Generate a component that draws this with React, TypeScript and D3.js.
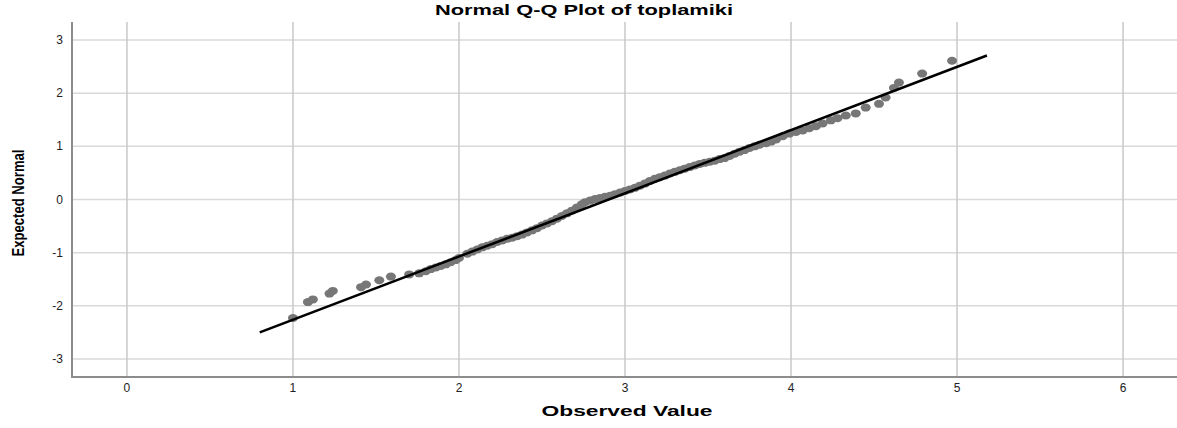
import React from 'react'
import * as d3 from 'd3'

const observedValues = [
  1.0, 1.09, 1.12, 1.22, 1.24, 1.41, 1.44, 1.52, 1.59, 1.7,
  1.76, 1.8, 1.83, 1.86, 1.89, 1.92, 1.95, 1.98, 2.0, 2.05,
  2.08, 2.11, 2.14, 2.17, 2.2, 2.23, 2.26, 2.29, 2.32, 2.35,
  2.38, 2.41, 2.44, 2.47, 2.5, 2.53, 2.56, 2.59, 2.62, 2.65,
  2.68, 2.71, 2.74, 2.76, 2.79, 2.82, 2.85, 2.88, 2.91, 2.94,
  2.97, 3.0, 3.03, 3.06, 3.09, 3.12, 3.15, 3.18, 3.21, 3.24,
  3.27, 3.3, 3.33, 3.36, 3.39, 3.42, 3.45, 3.48, 3.51, 3.54,
  3.57, 3.6, 3.63, 3.66, 3.69, 3.72, 3.75, 3.78, 3.81, 3.85,
  3.88, 3.91, 3.95, 3.99, 4.03, 4.07, 4.11, 4.15, 4.19, 4.24,
  4.28, 4.33, 4.39, 4.45, 4.53, 4.57, 4.62, 4.65, 4.79, 4.97,
]
const expectedNormal = [
  -2.23, -1.93, -1.88, -1.77, -1.72, -1.65, -1.6, -1.52, -1.45, -1.41,
  -1.39, -1.35, -1.31, -1.28, -1.25, -1.22, -1.18, -1.14, -1.1, -1.02,
  -0.98, -0.94, -0.9, -0.87, -0.84, -0.8, -0.77, -0.74, -0.72, -0.69,
  -0.66, -0.62, -0.58, -0.54, -0.49, -0.45, -0.41, -0.36, -0.31, -0.26,
  -0.21, -0.15, -0.09, -0.05, -0.02, 0.01, 0.03, 0.05, 0.07, 0.1,
  0.13, 0.16, 0.19, 0.22, 0.26, 0.3, 0.35, 0.39, 0.42, 0.45,
  0.49, 0.52, 0.55, 0.58, 0.61, 0.64, 0.67, 0.69, 0.71, 0.73,
  0.76, 0.78, 0.82, 0.86, 0.9, 0.93, 0.97, 1.0, 1.03, 1.06,
  1.09, 1.13, 1.19, 1.24, 1.27, 1.3, 1.34, 1.38, 1.43, 1.49,
  1.53, 1.58, 1.62, 1.73, 1.8, 1.92, 2.1, 2.2, 2.37, 2.61,
]

// reference line end points
const lineObserved = [0.8, 5.18]
const lineExpected = [-2.5, 2.71]

const xTicks = [0, 1, 2, 3, 4, 5, 6]
const yTicks = [-3, -2, -1, 0, 1, 2, 3]

const W = 1177
const H = 428
const left = 72, top = 22, bottom = 377, right = 1177

export default function App() {
  const x = d3.scaleLinear().domain([-0.331, 6.325]).range([left, right])
  const y = d3.scaleLinear().domain([-3.34, 3.34]).range([bottom, top])

  const refLine = d3.line<number>()
    .x(d => x(lineObserved[d]))
    .y(d => y(lineExpected[d]))

  const font = '"Liberation Sans", Arial, sans-serif'

  return (
    <svg width={W} height={H} style={{ position: 'absolute', left: 0, top: 0, background: '#fff' }}
      fontFamily={font}>
      {/* horizontal grid */}
      {yTicks.map(t => (
        <line key={'gy' + t} x1={left} x2={right} y1={y(t)} y2={y(t)}
          stroke="#d9d9d9" strokeWidth={1.5} />
      ))}
      {/* vertical grid */}
      {xTicks.map(t => (
        <line key={'gx' + t} x1={x(t)} x2={x(t)} y1={top} y2={bottom}
          stroke="#c8c8c8" strokeWidth={1.5} />
      ))}

      {/* axes */}
      <line x1={left} x2={left} y1={top} y2={bottom + 1} stroke="#8c8c8c" strokeWidth={2} />
      <line x1={left - 1} x2={right} y1={bottom} y2={bottom} stroke="#8c8c8c" strokeWidth={2} />

      {/* tick labels */}
      {xTicks.map(t => (
        <text key={'tx' + t} x={x(t)} y={392} textAnchor="middle" fontSize={12} fill="#222">{t}</text>
      ))}
      {yTicks.map(t => (
        <text key={'ty' + t} x={63} y={y(t) + 4} textAnchor="end" fontSize={12} fill="#222">{t}</text>
      ))}

      {/* points */}
      {observedValues.map((v, i) => (
        <ellipse key={'p' + i} cx={x(v)} cy={y(expectedNormal[i])} rx={5} ry={4} fill="#777" />
      ))}

      {/* reference line */}
      <path d={refLine([0, 1]) || ''} stroke="#000" strokeWidth={2.5} fill="none" />

      {/* titles */}
      <text x={584} y={15} textAnchor="middle" fontSize={15} fontWeight="bold" fill="#000"
        textLength={298} lengthAdjust="spacingAndGlyphs">Normal Q-Q Plot of toplamiki</text>
      <text x={627} y={416} textAnchor="middle" fontSize={15} fontWeight="bold" fill="#000"
        textLength={171} lengthAdjust="spacingAndGlyphs">Observed Value</text>
      <text transform="translate(24,203) rotate(-90)" textAnchor="middle" fontSize={17} fontWeight="bold"
        fill="#000" textLength={107} lengthAdjust="spacingAndGlyphs">Expected Normal</text>
    </svg>
  )
}
